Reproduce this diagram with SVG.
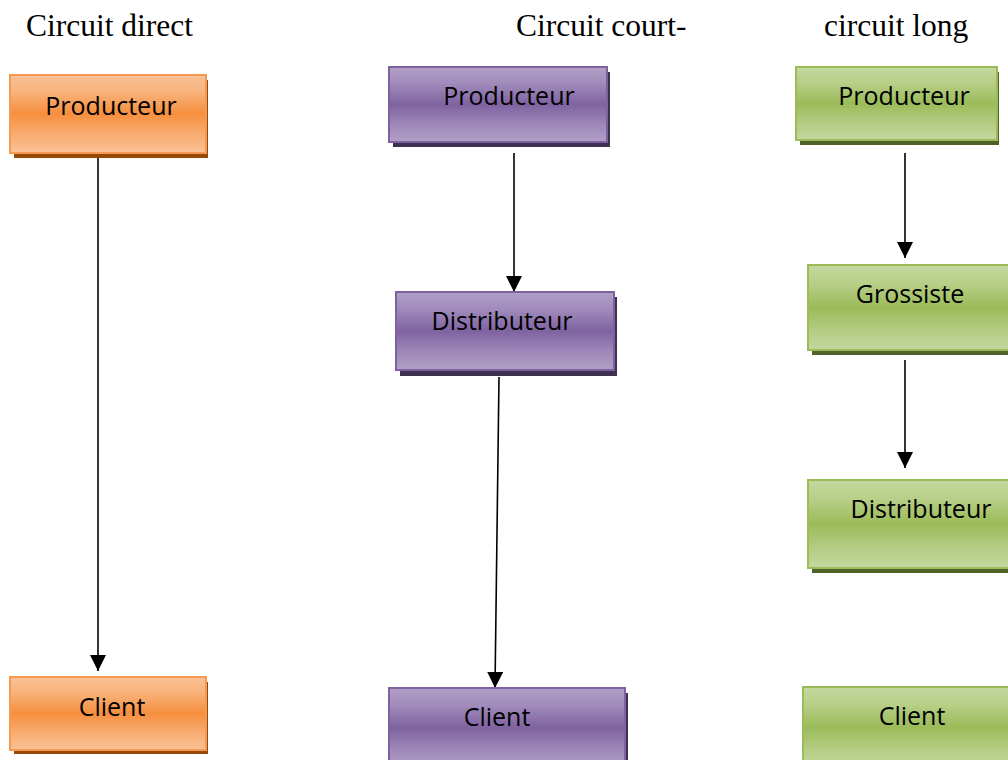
<svg xmlns="http://www.w3.org/2000/svg" width="1008" height="760" viewBox="0 0 1008 760">
  <style>
    .title { font-family: "Liberation Serif", "Times New Roman", serif; font-size: 31.5px; fill: #000; }
    .label { font-family: "Open Sans", "Noto Sans", sans-serif; font-size: 25px; fill: #000; text-anchor: middle; }
    .orange { fill: url(#gOrange); stroke: #F59A52; stroke-width: 2; }
    .purple { fill: url(#gPurple); stroke: #7E62A0; stroke-width: 2; }
    .green  { fill: url(#gGreen);  stroke: #9BBB59; stroke-width: 2; }
    .sh-orange { fill: #984807; }
    .sh-purple { fill: #3F3151; }
    .sh-green  { fill: #4F6228; }
    .link { stroke: #000; stroke-width: 1.6; fill: none; marker-end: url(#arrow); }
  </style>
  <defs>
    <linearGradient id="gOrange" x1="0" y1="0" x2="0" y2="1">
      <stop offset="0" stop-color="#FAC196"/>
      <stop offset="0.22" stop-color="#F8B27A"/>
      <stop offset="0.5" stop-color="#F68F3E"/>
      <stop offset="0.75" stop-color="#F8AB70"/>
      <stop offset="1" stop-color="#FAC196"/>
    </linearGradient>
    <linearGradient id="gPurple" x1="0" y1="0" x2="0" y2="1">
      <stop offset="0" stop-color="#B1A0C7"/>
      <stop offset="0.22" stop-color="#A08BBB"/>
      <stop offset="0.5" stop-color="#7F63A1"/>
      <stop offset="0.75" stop-color="#9C86B7"/>
      <stop offset="1" stop-color="#B1A0C7"/>
    </linearGradient>
    <linearGradient id="gGreen" x1="0" y1="0" x2="0" y2="1">
      <stop offset="0" stop-color="#C4D89F"/>
      <stop offset="0.22" stop-color="#B7CF87"/>
      <stop offset="0.5" stop-color="#9BBB59"/>
      <stop offset="0.75" stop-color="#B2CB80"/>
      <stop offset="1" stop-color="#C4D89F"/>
    </linearGradient>
    <marker id="arrow" markerUnits="userSpaceOnUse" markerWidth="16" markerHeight="16" viewBox="0 0 16 16" refX="16" refY="8" orient="auto">
      <path d="M0,0 L16,8 L0,16 Z" fill="#000"/>
    </marker>
  </defs>

  <rect width="1008" height="760" fill="#fff"/>

  <!-- column headings -->
  <text class="title" x="26" y="36">Circuit direct</text>
  <text class="title" x="516" y="36">Circuit court-</text>
  <text class="title" x="824" y="36">circuit long</text>

  <!-- connectors -->
  <g id="connectors">
    <line class="link" x1="98" y1="154" x2="98" y2="671"/>
    <line class="link" x1="514" y1="153" x2="514" y2="292"/>
    <line class="link" x1="499" y1="377" x2="495" y2="688"/>
    <line class="link" x1="905" y1="153" x2="905" y2="258"/>
    <line class="link" x1="905" y1="360" x2="905" y2="468"/>
  </g>

  <!-- direct channel -->
  <g id="direct-producteur">
    <rect class="sh-orange" x="14" y="80" width="194" height="78"/>
    <rect class="orange" x="10" y="75" width="196" height="78"/>
    <text class="label" x="111" y="115">Producteur</text>
  </g>
  <g id="direct-client">
    <rect class="sh-orange" x="14" y="682" width="194" height="72"/>
    <rect class="orange" x="10" y="677" width="196" height="73"/>
    <text class="label" x="112" y="716">Client</text>
  </g>

  <!-- short channel -->
  <g id="court-producteur">
    <rect class="sh-purple" x="393" y="72" width="217" height="75"/>
    <rect class="purple" x="389" y="67" width="218" height="75"/>
    <text class="label" x="509" y="105">Producteur</text>
  </g>
  <g id="court-distributeur">
    <rect class="sh-purple" x="400" y="297" width="217" height="79"/>
    <rect class="purple" x="396" y="292" width="218" height="78"/>
    <text class="label" x="502" y="330">Distributeur</text>
  </g>
  <g id="court-client">
    <rect class="sh-purple" x="393" y="693" width="235" height="80"/>
    <rect class="purple" x="389" y="688" width="236" height="80"/>
    <text class="label" x="497" y="726">Client</text>
  </g>

  <!-- long channel -->
  <g id="long-producteur">
    <rect class="sh-green" x="800" y="72" width="199" height="73"/>
    <rect class="green" x="796" y="67" width="201" height="73"/>
    <text class="label" x="904" y="105">Producteur</text>
  </g>
  <g id="long-grossiste">
    <rect class="sh-green" x="812" y="270" width="210" height="85"/>
    <rect class="green" x="808" y="265" width="210" height="85"/>
    <text class="label" x="910" y="303">Grossiste</text>
  </g>
  <g id="long-distributeur">
    <rect class="sh-green" x="812" y="485" width="210" height="88"/>
    <rect class="green" x="808" y="480" width="210" height="88"/>
    <text class="label" x="921" y="518">Distributeur</text>
  </g>
  <g id="long-client">
    <rect class="sh-green" x="807" y="692" width="215" height="80"/>
    <rect class="green" x="803" y="687" width="215" height="80"/>
    <text class="label" x="912" y="725">Client</text>
  </g>
</svg>
